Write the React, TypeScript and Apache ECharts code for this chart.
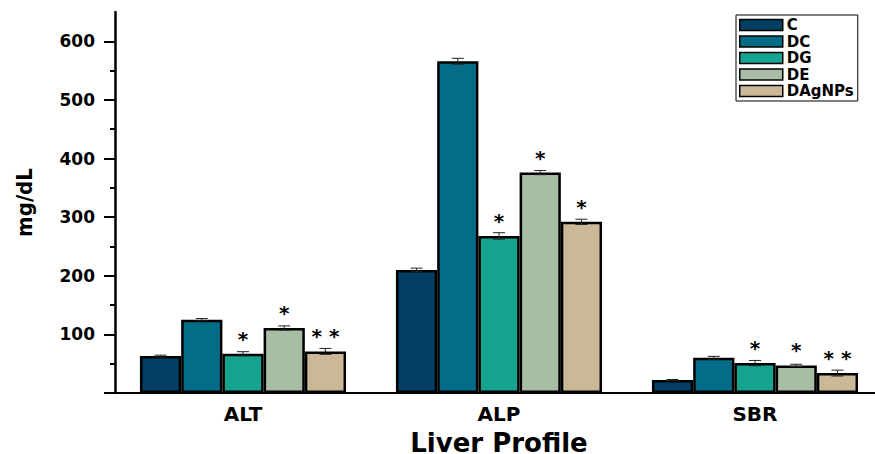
import React, { useEffect, useRef } from "react";
import * as echarts from "echarts";

const categories = ["ALT", "ALP", "SBR"];
const seriesNames = ["C", "DC", "DG", "DE", "DAgNPs"];
const valuesC = [63, 210, 22];
const valuesDC = [125, 566, 60];
const valuesDG = [67, 268, 51];
const valuesDE = [111, 376, 47];
const valuesDAgNPs = [71, 292, 34];
const errC = [1.5, 3, 1];
const errDC = [2, 5, 2.5];
const errDG = [3.5, 5.5, 4.5];
const errDE = [3.5, 3.5, 2];
const errDAgNPs = [5, 4.5, 5];
const sigC = ["", "", ""];
const sigDC = ["", "", ""];
const sigDG = ["*", "*", "*"];
const sigDE = ["*", "*", "*"];
const sigDAgNPs = ["* *", "*", "* *"];
const yTickValues = [0, 100, 200, 300, 400, 500, 600];
const yLabelValues = [100, 200, 300, 400, 500, 600];

const allValues = [valuesC, valuesDC, valuesDG, valuesDE, valuesDAgNPs];
const allErrors = [errC, errDC, errDG, errDE, errDAgNPs];
const allSigs = [sigC, sigDC, sigDG, sigDE, sigDAgNPs];
const colors = ["#023f62", "#036c87", "#16a490", "#a7bda4", "#cab899"];

const FONT = "'DejaVu Sans', 'Liberation Sans', Arial, sans-serif";
const CAT_GAP = 0.195;

export default function App() {
  const ref = useRef<HTMLDivElement>(null);
  useEffect(() => {
    document.body.style.margin = "0";
    if (!ref.current) return;
    const chart = echarts.init(ref.current, null, { renderer: "svg" });
    const n = seriesNames.length;
    const barSeries = seriesNames.map((name, k) => ({
      name,
      type: "bar",
      data: allValues[k],
      barGap: "0%",
      barCategoryGap: CAT_GAP * 100 + "%",
      itemStyle: { color: colors[k], borderColor: "#000", borderWidth: 2.5 },
      z: 2,
    }));
    const errSeries = seriesNames.map((name, k) => ({
      name: "err-" + name,
      type: "custom",
      data: categories.map((c, i) => [i, allValues[k][i], allErrors[k][i]]),
      encode: { x: 0, y: 1 },
      z: 5,
      renderItem: (params: any, api: any) => {
        const ci = api.value(0);
        const v = api.value(1);
        const e = api.value(2);
        const bandW = api.size([1, 0])[0];
        const barW = (bandW * (1 - CAT_GAP)) / n;
        const c = api.coord([ci, v]);
        const x = c[0] + (k - (n - 1) / 2) * barW;
        const yT = api.coord([ci, v + e])[1];
        const yB = api.coord([ci, v - e])[1];
        const cap = 6;
        const ls = { stroke: "#222", lineWidth: 1 };
        const sig = allSigs[k][params.dataIndex];
        const children: any[] = [
          { type: "line", shape: { x1: x, y1: yT, x2: x, y2: yB }, style: ls },
          { type: "line", shape: { x1: x - cap, y1: yT, x2: x + cap, y2: yT }, style: ls },
          { type: "line", shape: { x1: x - cap, y1: yB, x2: x + cap, y2: yB }, style: ls },
        ];
        if (sig) {
          children.push({
            type: "text",
            style: {
              text: sig,
              x,
              y: c[1] - 15,
              align: "center",
              verticalAlign: "middle",
              fontSize: 20,
              fontWeight: "bold",
              fontFamily: FONT,
              fill: "#000",
            },
          });
        }
        return { type: "group", children };
      },
    }));

    chart.setOption({
      animation: false,
      backgroundColor: "#fff",
      grid: { left: 115, right: -8, top: 12, bottom: 61, outerBoundsMode: "none", containLabel: false },
      legend: {
        data: seriesNames,
        orient: "vertical",
        left: 736,
        top: 15,
        padding: [2.5, 4, 2.5, 3],
        borderColor: "#000",
        borderWidth: 1,
        itemWidth: 43,
        itemHeight: 11,
        itemGap: 1.5,
        icon: "rect",
        itemStyle: { borderColor: "#000", borderWidth: 1.5 },
        textStyle: {
          fontSize: 15,
          fontWeight: "bold",
          fontFamily: FONT,
          color: "#000",
          lineHeight: 13,
          padding: [0, 0, 0, -1],
        },
      },
      xAxis: [
        {
          type: "category",
          data: categories,
          axisLine: { lineStyle: { color: "#000", width: 2 } },
          axisTick: { alignWithLabel: true, length: 6, lineStyle: { color: "#000", width: 2 } },
          axisLabel: { color: "#000", fontSize: 20, lineHeight: 22, fontWeight: "bold", fontFamily: FONT, margin: 10 },
          name: "Liver Profile",
          nameLocation: "middle",
          nameGap: 37,
          nameMoveOverlap: false,
          nameTextStyle: { color: "#000", fontSize: 26, lineHeight: 26, fontWeight: "bold", fontFamily: FONT },
        },
        {
          type: "category",
          data: categories,
          position: "top",
          offset: -381,
          axisLine: { show: false },
          axisTick: { inside: true, length: 3, lineStyle: { color: "#000", width: 1.5 } },
          axisLabel: { show: false },
        },
      ],
      yAxis: {
        type: "value",
        min: 0,
        max: 650,
        interval: 100,
        axisLine: { show: true, lineStyle: { color: "#000", width: 2.5 } },
        axisTick: { show: true, customValues: yTickValues, length: 11, lineStyle: { color: "#000", width: 2 } },
        minorTick: { show: true, splitNumber: 2, length: 5, lineStyle: { color: "#000", width: 2 } },
        axisLabel: {
          customValues: yLabelValues,
          color: "#000",
          fontSize: 17,
          fontWeight: "bold",
          fontFamily: FONT,
          margin: 20,
        },
        splitLine: { show: false },
        name: "mg/dL",
        nameLocation: "middle",
        nameGap: 80,
        nameRotate: 90,
        nameMoveOverlap: false,
        nameTextStyle: {
          color: "#000",
          fontSize: 22,
          fontWeight: "bold",
          fontFamily: "'Liberation Sans Narrow', 'DejaVu Sans Condensed', Arial, sans-serif",
        },
      },
      series: [...barSeries, ...errSeries],
    });
    return () => chart.dispose();
  }, []);
  return <div ref={ref} style={{ width: 875, height: 454 }} />;
}
